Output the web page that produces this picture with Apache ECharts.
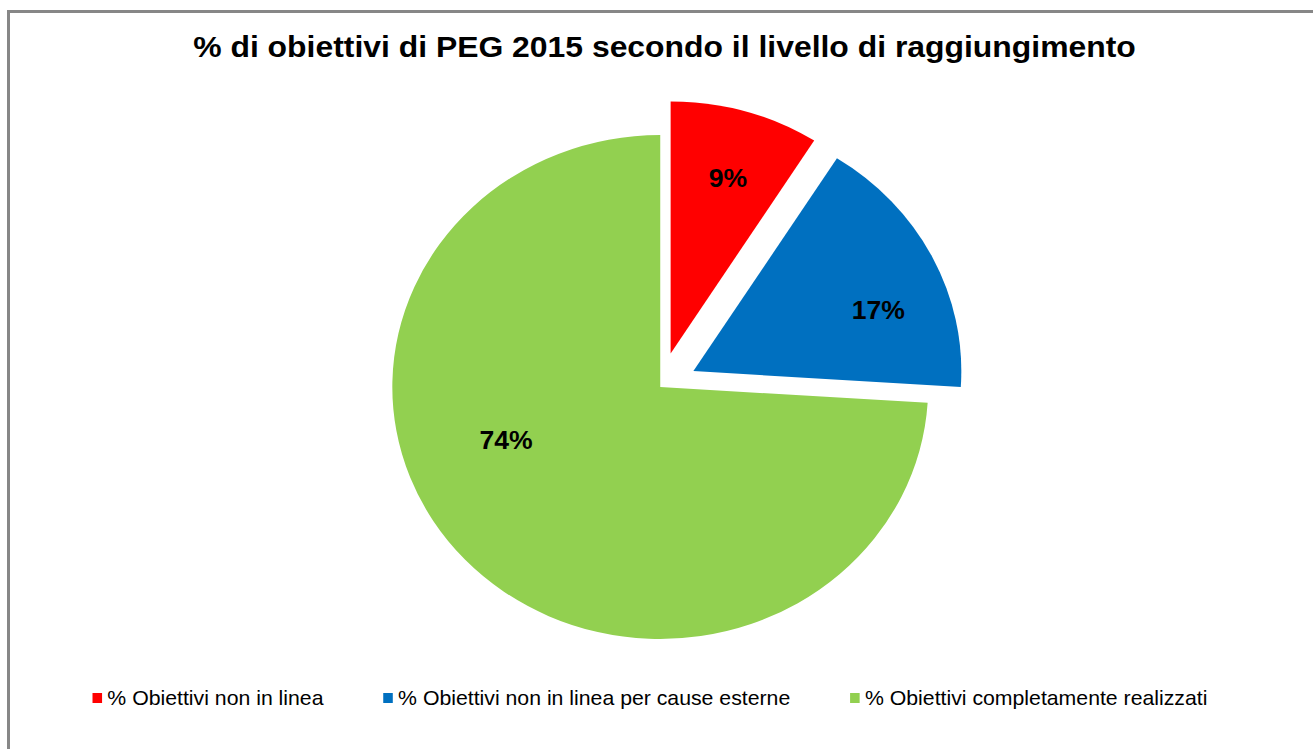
<!DOCTYPE html>
<html><head><meta charset="utf-8">
<script src="https://cdn.jsdelivr.net/npm/echarts/dist/echarts.min.js"></script>
<style>
html,body{margin:0;padding:0;background:#fff;overflow:hidden;width:1313px;height:749px;}
#frame{position:absolute;left:7px;top:10px;width:3000px;height:3000px;border-left:3px solid #878787;border-top:3px solid #878787;}
#chart{position:absolute;left:0;top:0;width:1235px;height:749px;transform:scaleX(1.0632);transform-origin:0 0;}
</style></head><body>
<div id="frame"></div><div id="chart"></div>
<script>
const titleText = '% di obiettivi di PEG 2015 secondo il livello di raggiungimento';
const categories = ['% Obiettivi non in linea', '% Obiettivi non in linea per cause esterne', '% Obiettivi completamente realizzati'];
const values = [9, 17, 74];
const colors = ['#FF0000', '#0070C0', '#92D050'];
const exploded = [true, true, false];

const R = 252;
// label nudges (chart px) relative to the default inside position
const labelShift = [[18, -51], [59, -2], [-51, -35]];

const chart = echarts.init(document.getElementById('chart'), null, { renderer: 'svg' });
chart.setOption({
  animation: false,
  backgroundColor: 'transparent',
  title: {
    text: titleText,
    left: 625,
    top: 32,
    padding: 0,
    textAlign: 'center',
    textStyle: { fontFamily: 'Liberation Sans, Arial, sans-serif', fontWeight: 'bold', fontSize: 30, color: '#000' }
  },
  legend: {
    left: 87,
    top: 688,
    padding: 0,
    icon: 'rect',
    itemWidth: 9,
    itemHeight: 10,
    itemGap: 56,
    selectedMode: false,
    textStyle: { fontFamily: 'Liberation Sans, Arial, sans-serif', fontSize: 20, color: '#000', lineHeight: 20 },
    data: categories
  },
  series: [{
    type: 'pie',
    center: [621, 387],
    radius: [0, R],
    startAngle: 90,
    clockwise: true,
    selectedMode: 'multiple',
    selectedOffset: 35,
    avoidLabelOverlap: false,
    emphasis: { disabled: true, scale: false },
    label: {
      show: true,
      position: 'inside',
      formatter: '{c}%',
      fontFamily: 'Liberation Sans, Arial, sans-serif',
      fontWeight: 'bold',
      fontSize: 25,
      color: '#000'
    },
    labelLine: { show: false },
    labelLayout: function (p) {
      const s = labelShift[p.dataIndex];
      return { dx: s[0], dy: s[1] };
    },
    data: categories.map((name, i) => ({
      name: name,
      value: values[i],
      selected: exploded[i],
      itemStyle: { color: colors[i] }
    }))
  }]
});
</script>
</body></html>
